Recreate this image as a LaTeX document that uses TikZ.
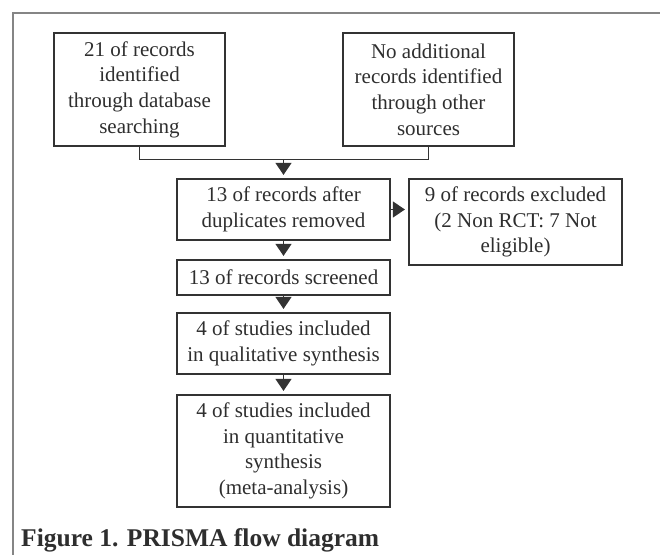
\documentclass[tikz,border=0pt]{standalone}
\usepackage{fontspec}
\setmainfont{Liberation Serif}
\usepackage{xcolor}
\usetikzlibrary{arrows.meta}
\definecolor{framegray}{HTML}{858585}
\definecolor{boxline}{HTML}{333333}
\definecolor{boxtext}{HTML}{2E2E2E}

\begin{document}
\begin{tikzpicture}[x=1pt, y=-1pt,
	box/.style={draw=boxline, line width=1.2pt, text=boxtext, align=center,
		inner sep=2pt, minimum width=213pt,
		font=\fontsize{21}{25.7}\selectfont},
	topbox/.style={box, minimum width=171pt, minimum height=113pt},
	arr/.style={draw=boxline, line width=1.2pt, shorten >=3.5pt,
		-{Triangle[width=16pt,length=12pt]}}]
	\useasboundingbox (0,0) rectangle (660,555);

	% outer frame, open on right and bottom
	\draw[framegray, line width=1.6pt] (660,13) -- (13,13) -- (13,555);

	\node[topbox] (ident) at (139.5,89.5) {21 of records\\identified\\through database\\searching};
	\node[topbox] (other) at (428.5,89.5) {No additional\\records identified\\through other\\sources};

	\node[box, minimum height=61pt] (dupl) at (283.5,209.5) {13 of records after\\duplicates removed};
	\node[box, minimum height=86pt] (excl) at (515.5,222) {9 of records excluded\\(2 Non RCT: 7 Not\\eligible)};
	\node[box, minimum height=35pt] (scrn) at (283.5,277.5) {13 of records screened};
	\node[box, minimum height=61pt] (qual) at (283.5,343.5) {4 of studies included\\in qualitative synthesis};
	\node[box, minimum height=112pt] (quant) at (283.5,451) {4 of studies included\\in quantitative\\synthesis\\(meta-analysis)};

	\path (dupl.north) ++(0,-19) coordinate (join);
	\draw[boxline, line width=1.2pt] (ident.south) |- (join) -| (other.south);
	\draw[arr] (join) -- (dupl.north);
	\draw[arr] (dupl.east) -- (dupl.east -| excl.west);
	\draw[arr] (dupl.south) -- (scrn.north);
	\draw[arr] (scrn.south) -- (qual.north);
	\draw[arr] (qual.south) -- (quant.north);

	\node[anchor=base west, inner sep=0pt, text=boxtext,
		font=\fontsize{25.5}{30}\selectfont\bfseries] (capt) at (21,546) {Figure 1. PRISMA flow diagram};
\end{tikzpicture}
\end{document}
